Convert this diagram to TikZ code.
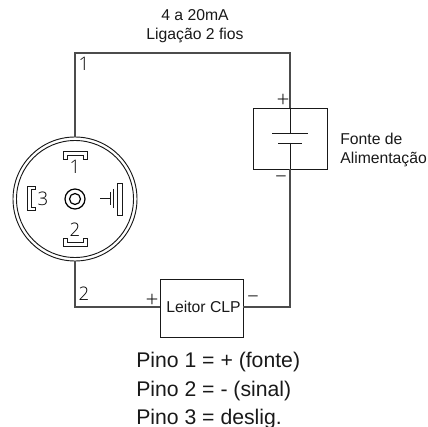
\documentclass[tikz,border=0pt]{standalone}
\usepackage{fontspec}
\setmainfont{Liberation Sans}
\newfontfamily\cadfont{Open Sans Light}
\tikzset{
  x=0.75pt,y=-0.75pt,
  wire/.style={draw=black!70,line width=0.95pt},
  thin line/.style={draw=black!90,line width=0.65pt},
  boxed/.style={draw=black!90,line width=0.7pt,inner sep=0pt},
  lab/.style={font=\fontsize{11.8}{14}\selectfont,text=black!90,inner sep=0pt,anchor=base},
  pino/.style={font=\fontsize{15.9}{19}\selectfont,text=black!90,inner sep=0pt,anchor=base west},
  cad/.style={font=\fontsize{14}{18}\cadfont\selectfont,text=black,inner sep=0pt},
  sign/.style={font=\fontsize{17}{20}\cadfont\selectfont,text=black,inner sep=0pt}
}
\begin{document}
\begin{tikzpicture}
\useasboundingbox (0,0) rectangle (428,427);
\clip (0,0) rectangle (428,427);
% nodes
\node[circle,boxed,minimum size=124*0.75pt] (conn) at (75,199) {};
\node[circle,boxed,minimum size=117*0.75pt] at (75,199) {};
\node[rectangle,boxed,minimum width=74*0.75pt,minimum height=61*0.75pt] (font) at (290,138.5) {};
\node[rectangle,boxed,minimum width=83*0.75pt,minimum height=58*0.75pt] (clp) at (201.5,308) {};
\node[lab] at (203.5,313) {Leitor CLP};
\coordinate (c1) at (75,53);
\coordinate (c2) at (290,53);
\coordinate (c3) at (75,307);
\coordinate (c4) at (290,307);
\coordinate (b1) at (290,133);
\coordinate (b2) at (290,143);
% wires
\draw[wire] (conn.north) -- (c1) -- (c2) -- (font.north);
\draw[wire] (conn.south) -- (c3) -- (clp.west |- c3);
\draw[wire] (clp.east |- c4) -- (c4) -- (font.south);
\draw[thin line] (font.north) -- (b1);
\draw[thin line] (b2) -- (font.south);
\draw[thin line] (272,133) -- (308,133);
\draw[thin line] (278,143) -- (302,143);
% pins
\draw[thin line] (63,151) -- (87,151) -- (87,159) -- (83,159) -- (83,155) -- (67,155) -- (67,159) -- (63,159) -- cycle;
\draw[thin line] (63,246) -- (87,246) -- (87,238) -- (83,238) -- (83,242) -- (67,242) -- (67,238) -- (63,238) -- cycle;
\draw[thin line] (35,186) -- (27,186) -- (27,210) -- (35,210) -- (35,207) -- (31,207) -- (31,189) -- (35,189) -- cycle;
\draw[thin line] (117,183) rectangle (122,215);
\draw[thin line] (100,198) -- (110,198);
\draw[thin line] (110,192) -- (110,205);
\draw[thin line] (113,189) -- (113,208);
\node[circle,draw=black,line width=0.9pt,minimum size=20*0.75pt,inner sep=0pt] (c) at (75,199) {};
\node[circle,draw=black,line width=0.9pt,minimum size=11*0.75pt,inner sep=0pt] at (75,199) {};
% labels
\node[lab] (t1) at (195,21) {4 a 20mA};
\node[lab] (t2) at (195,40) {Ligação 2 fios};
\node[lab,anchor=base west] (t3) at (340,145) {Fonte de};
\node[lab,anchor=base west] (t4) at (340,164) {Alimentação};
\node[cad] at (84,64) {1};
\node[cad] at (75,167) {1};
\node[cad] at (84,294) {2};
\node[cad] at (75,230) {2};
\node[cad] at (43,199) {3};
\node[sign] at (283,101) {+};
\node[sign] at (281,179) {–};
\node[sign] at (152,301) {+};
\node[sign] at (253,299) {–};
\node[pino] at (136,368) {Pino 1 = + (fonte)};
\node[pino] at (136,396) {Pino 2 = - (sinal)};
\node[pino] at (136,424) {Pino 3 = deslig.};
\end{tikzpicture}
\end{document}
